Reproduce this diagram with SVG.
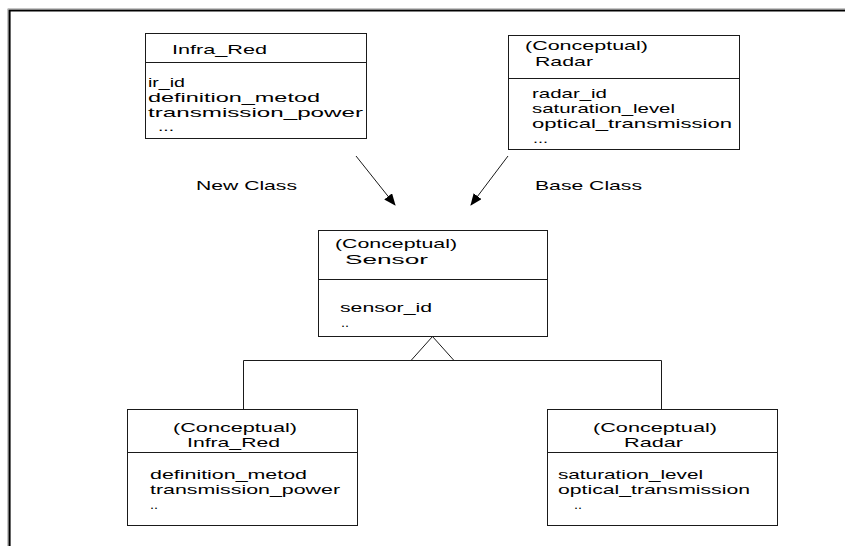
<svg xmlns="http://www.w3.org/2000/svg" width="845" height="546" viewBox="0 0 845 546">
<defs>
<style>
.box{fill:#fff;stroke:#1a1a1a;stroke-width:1}
.ln{stroke:#1a1a1a;stroke-width:1;fill:none}
text{font-family:"Liberation Sans",Arial,sans-serif;font-size:13px;fill:#000}
</style>
<marker id="ah" markerWidth="12" markerHeight="10" refX="11" refY="5" orient="auto" markerUnits="userSpaceOnUse">
<path d="M0,0 L12,5 L0,10 Z" fill="#000"/>
</marker>
</defs>
<rect width="845" height="546" fill="#fff"/>
<path d="M9.5,546 V10.5 H845" fill="none" stroke="#000" stroke-width="2.2"/>
<path d="M7.8,546 V8.8 H845" fill="none" stroke="#999" stroke-width="0.8"/>

<g id="infra_red_new">
<rect class="box" x="145.5" y="33.5" width="221" height="105"/>
<line class="ln" x1="145.5" y1="62.5" x2="366.5" y2="62.5"/>
<text x="172" y="54" textLength="95" lengthAdjust="spacingAndGlyphs">Infra_Red</text>
<text x="148" y="87" textLength="37" lengthAdjust="spacingAndGlyphs">ir_id</text>
<text x="148" y="102" textLength="172" lengthAdjust="spacingAndGlyphs">definition_metod</text>
<text x="148" y="117" textLength="215" lengthAdjust="spacingAndGlyphs">transmission_power</text>
<text x="158" y="131" textLength="16" lengthAdjust="spacingAndGlyphs">...</text>
</g>

<g id="radar_base">
<rect class="box" x="508.5" y="35.5" width="231" height="114"/>
<line class="ln" x1="508.5" y1="78.5" x2="739.5" y2="78.5"/>
<text x="525" y="50" textLength="123" lengthAdjust="spacingAndGlyphs">(Conceptual)</text>
<text x="535" y="66" textLength="58" lengthAdjust="spacingAndGlyphs">Radar</text>
<text x="532" y="98" textLength="75" lengthAdjust="spacingAndGlyphs">radar_id</text>
<text x="532" y="113" textLength="143" lengthAdjust="spacingAndGlyphs">saturation_level</text>
<text x="532" y="128" textLength="200" lengthAdjust="spacingAndGlyphs">optical_transmission</text>
<text x="533" y="143" textLength="15" lengthAdjust="spacingAndGlyphs">...</text>
</g>

<g id="sensor">
<rect class="box" x="318.5" y="230.5" width="229" height="106"/>
<line class="ln" x1="318.5" y1="279.5" x2="547.5" y2="279.5"/>
<text x="335" y="248" textLength="122" lengthAdjust="spacingAndGlyphs">(Conceptual)</text>
<text x="345" y="264" textLength="83" lengthAdjust="spacingAndGlyphs">Sensor</text>
<text x="340" y="312" textLength="92" lengthAdjust="spacingAndGlyphs">sensor_id</text>
<text x="341" y="327" textLength="8" lengthAdjust="spacingAndGlyphs">..</text>
</g>

<g id="infra_red_conceptual">
<rect class="box" x="127.5" y="409.5" width="230" height="116"/>
<line class="ln" x1="127.5" y1="452.5" x2="357.5" y2="452.5"/>
<text x="173" y="432" textLength="124" lengthAdjust="spacingAndGlyphs">(Conceptual)</text>
<text x="187" y="447" textLength="93" lengthAdjust="spacingAndGlyphs">Infra_Red</text>
<text x="150" y="479" textLength="157" lengthAdjust="spacingAndGlyphs">definition_metod</text>
<text x="150" y="494" textLength="190" lengthAdjust="spacingAndGlyphs">transmission_power</text>
<text x="150" y="509" textLength="8" lengthAdjust="spacingAndGlyphs">..</text>
</g>

<g id="radar_conceptual">
<rect class="box" x="547.5" y="409.5" width="230" height="116"/>
<line class="ln" x1="547.5" y1="452.5" x2="777.5" y2="452.5"/>
<text x="593" y="432" textLength="124" lengthAdjust="spacingAndGlyphs">(Conceptual)</text>
<text x="624" y="447" textLength="59" lengthAdjust="spacingAndGlyphs">Radar</text>
<text x="558" y="479" textLength="145" lengthAdjust="spacingAndGlyphs">saturation_level</text>
<text x="558" y="494" textLength="192" lengthAdjust="spacingAndGlyphs">optical_transmission</text>
<text x="574" y="509" textLength="8" lengthAdjust="spacingAndGlyphs">..</text>
</g>

<g id="labels">
<text x="196" y="190" textLength="101" lengthAdjust="spacingAndGlyphs">New Class</text>
<text x="535" y="190" textLength="107" lengthAdjust="spacingAndGlyphs">Base Class</text>
</g>

<g id="connectors">
<line class="ln" x1="356" y1="156" x2="395" y2="205" marker-end="url(#ah)"/>
<line class="ln" x1="508" y1="156" x2="471" y2="205" marker-end="url(#ah)"/>
<path class="ln" d="M243.5,409 V360.5 H661.5 V409"/>
<path class="ln" d="M432.5,336.5 L411,360.5 M432.5,336.5 L454,360.5"/>
</g>
</svg>
